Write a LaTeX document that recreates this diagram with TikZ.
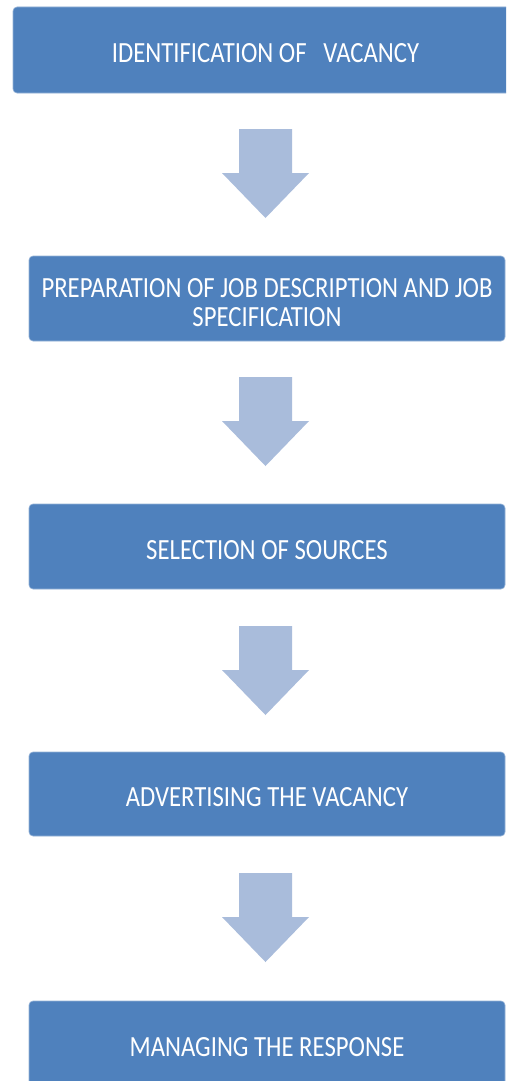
\documentclass[tikz,border=0pt]{standalone}
\usepackage{fontspec}
\setmainfont{Carlito}
\definecolor{boxblue}{HTML}{4F81BD}
\definecolor{arrowfill}{HTML}{A9BCDB}
\newcommand{\boxtext}[1]{\scalebox{1.03}[1.22]{\begin{tabular}{@{}c@{}}#1\end{tabular}}}
\tikzset{
  stepbox/.style={fill=boxblue, draw=boxblue!60!white, line width=0.6pt, rounded corners=4pt,
    inner sep=0pt, anchor=center},
  steptext/.style={text=white, font=\fontsize{24}{24}\selectfont, inner sep=0pt, anchor=center},
  downarrow/.pic={\fill[arrowfill] (-26.5,0) -- (26.5,0) -- (26.5,44) -- (43.5,44) -- (0,89) -- (-43.5,44) -- (-26.5,44) -- cycle;}
}
\begin{document}
\begin{tikzpicture}[x=1pt,y=-1pt]
\useasboundingbox (0,0) rectangle (506,1081);
\clip (0,0) rectangle (506,1081);
\fill[white] (0,0) rectangle (506,1081);
\node[stepbox, minimum width=505pt, minimum height=86pt] (b1) at (265.5,50) {};
\node[stepbox, minimum width=476pt, minimum height=85pt] (b2) at (267,298.5) {};
\node[stepbox, minimum width=476pt, minimum height=85pt] (b3) at (267,546.5) {};
\node[stepbox, minimum width=476pt, minimum height=84pt] (b4) at (267,794) {};
\node[stepbox, minimum width=476pt, minimum height=86pt] (b5) at (267,1044) {};
\node[steptext] (t1) at ([yshift=-7pt]b1.center) {\boxtext{IDENTIFICATION OF \ \ VACANCY}};
\node[steptext] (t2) at ([yshift=-8pt]b2.center) {\boxtext{PREPARATION OF JOB DESCRIPTION AND JOB\\SPECIFICATION}};
\node[steptext] (t3) at ([yshift=-7pt]b3.center) {\boxtext{SELECTION OF SOURCES}};
\node[steptext] (t4) at ([yshift=-7pt]b4.center) {\boxtext{ADVERTISING THE VACANCY}};
\node[steptext] (t5) at ([yshift=-7pt]b5.center) {\boxtext{MANAGING THE RESPONSE}};
\pic at (265.5,129) {downarrow};
\pic at (265.5,377) {downarrow};
\pic at (265.5,626) {downarrow};
\pic at (265.5,873) {downarrow};
\end{tikzpicture}
\end{document}
